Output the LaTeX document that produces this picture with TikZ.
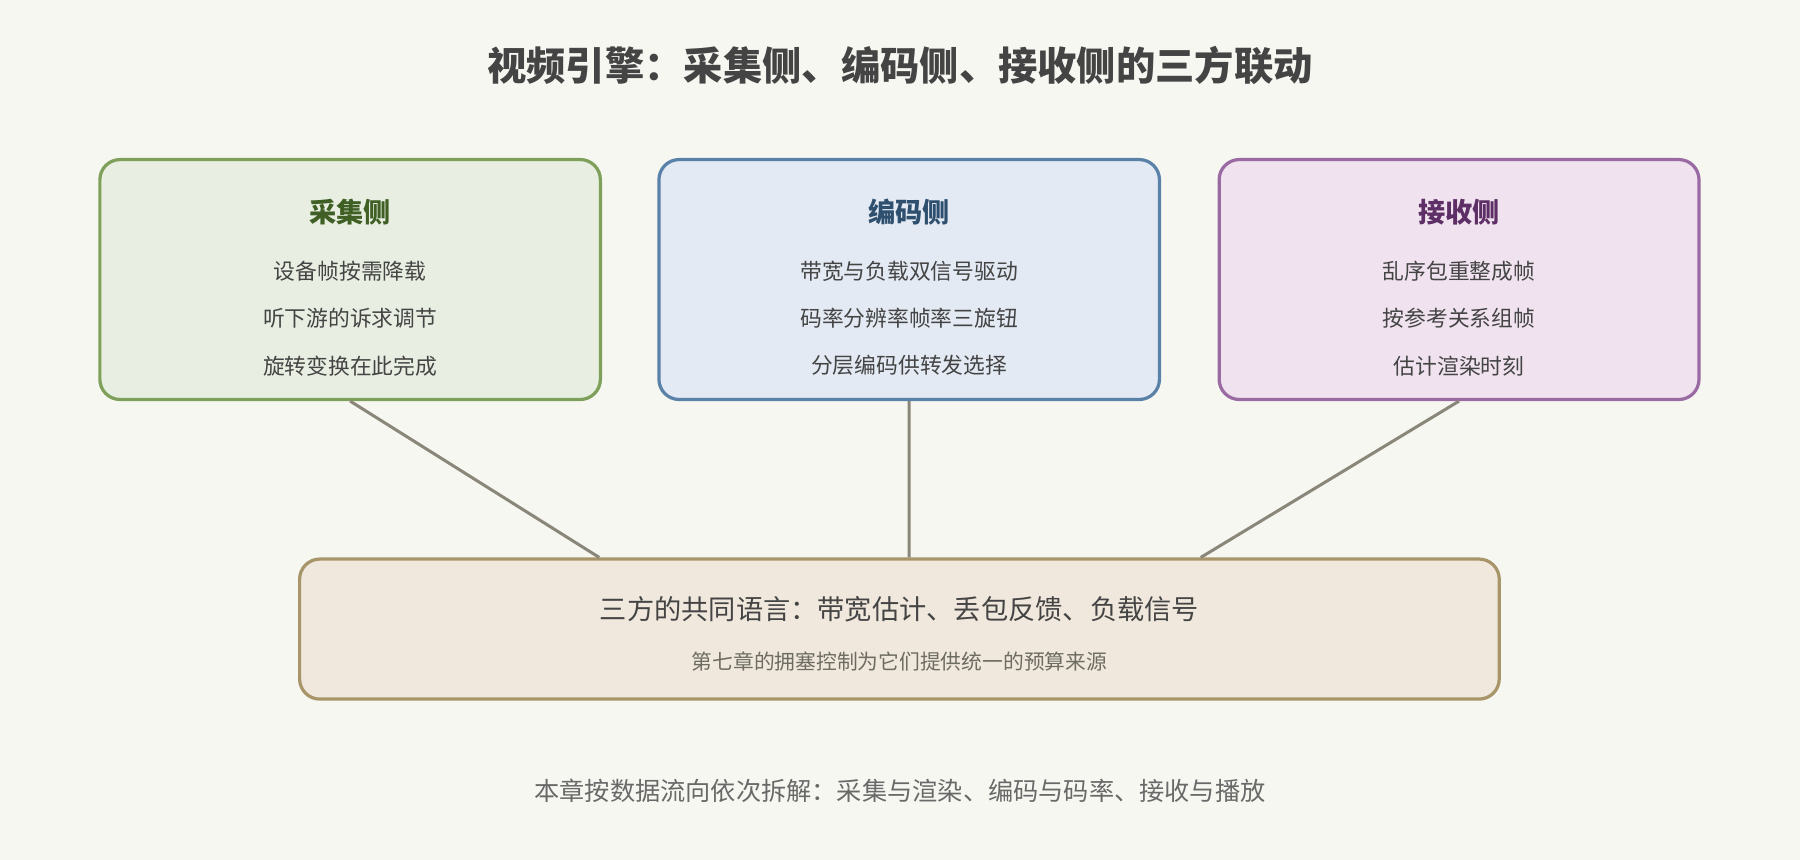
\documentclass[tikz,border=0pt]{standalone}
\usepackage{fontspec}
\setmainfont{Noto Sans CJK SC}
\usetikzlibrary{positioning,calc}
\definecolor{bg}{HTML}{F7F7F2}
\definecolor{ink}{HTML}{444444}
\definecolor{linkc}{HTML}{8A877A}
\definecolor{capfill}{HTML}{E8EFE2}\definecolor{capline}{HTML}{7EA05A}\definecolor{captext}{HTML}{3F5F25}
\definecolor{encfill}{HTML}{E3EAF3}\definecolor{encline}{HTML}{5A82A8}\definecolor{enctext}{HTML}{2F4F6F}
\definecolor{recfill}{HTML}{F0E3EF}\definecolor{recline}{HTML}{9A6AA3}\definecolor{rectext}{HTML}{5E2F66}
\definecolor{langfill}{HTML}{F0E8DC}\definecolor{langline}{HTML}{A8966A}
\begin{document}
\begin{tikzpicture}[x=0.02cm,y=-0.02cm,
side/.style = {draw, line width=1.6pt, rounded corners=10pt, minimum height=209*0.02cm},
head/.style = {font=\fontsize{13.5}{16}\selectfont\bfseries},
item/.style = {font=\fontsize{10.8}{13}\selectfont, text=ink},
link/.style = {draw=linkc, line width=1.5pt}
                    ]
\fill[bg] (0,0) rectangle (1568,749);
\useasboundingbox (0,0) rectangle (1568,749);
\node[font=\fontsize{19.5}{23}\selectfont\bfseries, text=ink] (title) at (784,57) {视频引擎：采集侧、编码侧、接收侧的三方联动};
% three sides
\node[side, fill=capfill, draw=capline, minimum width=436*0.02cm] (cap) at (305,243.5) {};
\node[side, fill=encfill, draw=encline, minimum width=436*0.02cm] (enc) at (792,243.5) {};
\node[side, fill=recfill, draw=recline, minimum width=418*0.02cm] (rec) at (1271,243.5) {};
\foreach \b/\c/\h/\i/\j/\k in {cap/captext/采集侧/设备帧按需降载/听下游的诉求调节/旋转变换在此完成,
    enc/enctext/编码侧/带宽与负载双信号驱动/码率分辨率帧率三旋钮/分层编码供转发选择,
    rec/rectext/接收侧/乱序包重整成帧/按参考关系组帧/估计渲染时刻}
{
  \node[head, text=\c] (\b-h) at ($(\b.north)+(0,47)$) {\h};
  \node[item] (\b-1) at ($(\b.north)+(0,99)$) {\i};
  \node[item] (\b-2) at ($(\b.north)+(0,140)$) {\j};
  \node[item] (\b-3) at ($(\b.north)+(0,181)$) {\k};
}
% common language
\node[side, fill=langfill, draw=langline, minimum width=1045*0.02cm, minimum height=122*0.02cm] (lang) at (783.5,548) {};
\node[font=\fontsize{13.5}{16}\selectfont, text=ink] (lang-h) at (783.5,531) {三方的共同语言：带宽估计、丢包反馈、负载信号};
\node[font=\fontsize{10.3}{12}\selectfont, text=linkc!80!black] (lang-s) at (783.5,576) {第七章的拥塞控制为它们提供统一的预算来源};
\coordinate (lang-l) at ($(lang.north)+(-261.5,0)$);
\coordinate (lang-m) at ($(lang.north)+(8.5,0)$);
\coordinate (lang-r) at ($(lang.north)+(262.5,0)$);
\draw[link] (cap.south) -- (lang-l);
\draw[link] (enc.south) -- (lang-m);
\draw[link] (rec.south) -- (lang-r);
\node[font=\fontsize{12.5}{15}\selectfont, text=ink!80] (foot) at (784,689) {本章按数据流向依次拆解：采集与渲染、编码与码率、接收与播放};
\end{tikzpicture}
\end{document}
